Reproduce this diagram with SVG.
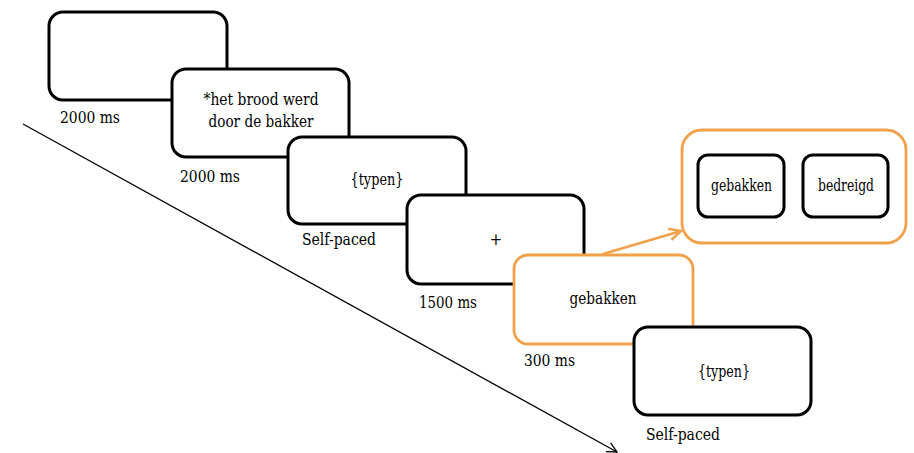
<svg xmlns="http://www.w3.org/2000/svg" width="914" height="453" viewBox="0 0 914 453">
<defs>
<style>
.scr{fill:#fff;stroke:#000;stroke-width:3}
.org{fill:#fff;stroke:#F0A14A;stroke-width:2.8}
text{font-family:'DejaVu Serif Condensed','DejaVu Serif',serif;font-size:17px;fill:#000}
.s{font-size:16px}
.m{text-anchor:middle}
</style>
<marker id="ab" viewBox="0 0 12 12" refX="11" refY="6" markerWidth="12" markerHeight="12" markerUnits="userSpaceOnUse" orient="auto">
<path d="M1,1 L11,6 L1,11" fill="none" stroke="#000" stroke-width="1.3"/>
</marker>
<marker id="ao" viewBox="0 0 12 12" refX="11" refY="6" markerWidth="14" markerHeight="14" markerUnits="userSpaceOnUse" orient="auto">
<path d="M1,1 L11,6 L1,11" fill="none" stroke="#F0A14A" stroke-width="2.2"/>
</marker>
</defs>
<g id="connectors">
<line x1="23" y1="124" x2="617" y2="452" stroke="#000" stroke-width="1.3" marker-end="url(#ab)"/>
</g>
<g id="screen1">
<rect class="scr" x="49" y="12" width="178" height="88" rx="14"/>
<text x="60" y="123" textLength="60" lengthAdjust="spacingAndGlyphs">2000 ms</text>
</g>
<g id="screen2">
<rect class="scr" x="172" y="69" width="177" height="88" rx="14"/>
<text class="m" x="261" y="105" textLength="115" lengthAdjust="spacingAndGlyphs">*het brood werd</text>
<text class="m" x="261" y="127" textLength="105" lengthAdjust="spacingAndGlyphs">door de bakker</text>
<text x="180" y="182" textLength="60" lengthAdjust="spacingAndGlyphs">2000 ms</text>
</g>
<g id="screen3">
<rect class="scr" x="288" y="137" width="178" height="87" rx="14"/>
<text class="m" x="377" y="185" textLength="53" lengthAdjust="spacingAndGlyphs">{typen}</text>
<text x="302" y="245" textLength="74" lengthAdjust="spacingAndGlyphs">Self-paced</text>
</g>
<g id="screen4">
<rect class="scr" x="407" y="195" width="177" height="89" rx="14"/>
<text class="m" x="496" y="245">+</text>
<text x="419" y="308" textLength="58" lengthAdjust="spacingAndGlyphs">1500 ms</text>
</g>
<g id="connector-orange">
<line x1="603" y1="254" x2="681" y2="231" stroke="#F0A14A" stroke-width="2.8" marker-end="url(#ao)"/>
</g>
<g id="screen5">
<rect class="org" x="514" y="255" width="179" height="89" rx="14"/>
<text class="m" x="603" y="304" textLength="67" lengthAdjust="spacingAndGlyphs">gebakken</text>
<text x="524" y="366" textLength="51" lengthAdjust="spacingAndGlyphs">300 ms</text>
</g>
<g id="screen6">
<rect class="scr" x="634" y="327" width="177" height="88" rx="14"/>
<text class="m" x="724" y="377" textLength="52" lengthAdjust="spacingAndGlyphs">{typen}</text>
<text x="646" y="440" textLength="74" lengthAdjust="spacingAndGlyphs">Self-paced</text>
</g>
<g id="choice">
<rect class="org" x="682" y="130" width="224" height="113" rx="20"/>
<g id="opt1">
<rect class="scr" x="698" y="155" width="86" height="62" rx="10"/>
<text class="s m" x="741.5" y="191" textLength="61" lengthAdjust="spacingAndGlyphs">gebakken</text>
</g>
<g id="opt2">
<rect class="scr" x="803" y="155" width="85" height="62" rx="10"/>
<text class="s m" x="846" y="191" textLength="56" lengthAdjust="spacingAndGlyphs">bedreigd</text>
</g>
</g>
</svg>
